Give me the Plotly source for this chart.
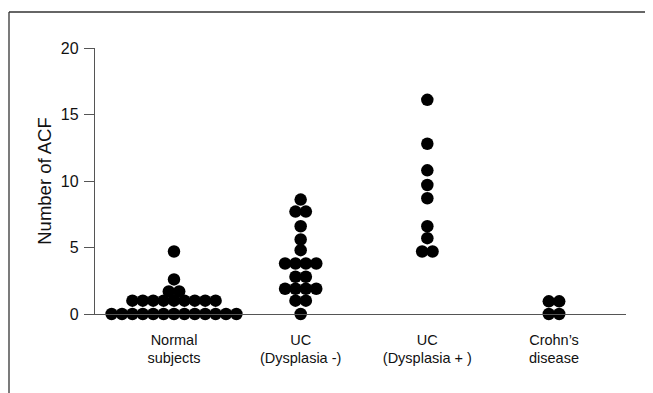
import plotly.graph_objects as go
from collections import Counter

# ---- data ----
categories = ["Normal<br>subjects", "UC<br>(Dysplasia -)", "UC<br>(Dysplasia + )", "Crohn\u2019s<br>disease"]
normal_subjects = [0, 0, 0, 0, 0, 0, 0, 0, 0, 0, 0, 0, 0,
                   1, 1, 1, 1, 1, 1, 1, 1, 1,
                   1.7, 1.7, 2.6, 4.7]
uc_dysplasia_neg = [0, 1.0, 1.0, 1.9, 1.9, 1.9, 1.9, 2.8, 2.8,
                    3.8, 3.8, 3.8, 3.8, 4.8, 5.6, 6.6, 7.7, 7.7, 8.6]
uc_dysplasia_pos = [4.7, 4.7, 5.7, 6.6, 8.7, 9.7, 10.8, 12.8, 16.1]
crohns_disease = [0, 0, 0.95, 0.95]
series = [normal_subjects, uc_dysplasia_neg, uc_dysplasia_pos, crohns_disease]
y_ticks = [0, 5, 10, 15, 20]

# ---- layout constants (page pixels; the page body has an 8px margin) ----
OFF = 8
WIN_W, WIN_H = 653, 393
W, H = WIN_W - OFF, WIN_H - OFF
L, R, T, B = 95 - OFF, 626 - OFF, 48 - OFF, 314 - OFF
cat_px0, cat_px3 = 174, 554
unit = (cat_px3 - cat_px0) / 3.0
x_lo = (95 - cat_px0) / unit
x_hi = (626 - cat_px0) / unit
dot_dx = 10.4 / unit

xs, ys = [], []
for ci, vals in enumerate(series):
    counts = Counter(vals)
    seen = Counter()
    for v in vals:
        n = counts[v]
        i = seen[v]
        seen[v] += 1
        xs.append(ci + (i - (n - 1) / 2.0) * dot_dx)
        ys.append(v)

fig = go.Figure()
fig.add_trace(go.Scatter(
    x=xs, y=ys, mode="markers",
    marker=dict(size=12.5, color="black", line=dict(width=0)),
    cliponaxis=False, showlegend=False, hoverinfo="y"))

axis_col = "#555555"
fig.update_layout(
    width=W, height=H,
    margin=dict(l=L, r=W - R, t=T, b=H - B, pad=0),
    plot_bgcolor="white", paper_bgcolor="white",
    font=dict(family="Liberation Sans, Arial, sans-serif", color="#111111", size=14),
    xaxis=dict(range=[x_lo, x_hi], tickvals=list(range(len(categories))),
               ticktext=categories, showline=True, linecolor=axis_col, linewidth=1.3,
               ticks="", showgrid=False, zeroline=False, ticklabelstandoff=12,
               tickfont=dict(size=14.5), fixedrange=True),
    yaxis=dict(range=[0, 20], tickvals=y_ticks, showline=True, linecolor=axis_col,
               linewidth=1.3, ticks="outside", ticklen=10, tickcolor=axis_col,
               tickwidth=1.3, showgrid=False, zeroline=False,
               tickfont=dict(size=16), ticklabelstandoff=2,
               title=dict(text="Number of ACF", font=dict(size=18.5), standoff=4),
               fixedrange=True),
)

# decorative frame (top and left edges of the figure panel), in figure pixels
def fx(px):
    return (px - L) / (R - L)

def fy(py):
    return (B - py) / (B - T)

frame_col = "#333333"
fig.add_shape(type="line", xref="paper", yref="paper",
              x0=fx(1), x1=fx(W + 5), y0=fy(4), y1=fy(4),
              line=dict(color=frame_col, width=1.3))
fig.add_shape(type="line", xref="paper", yref="paper",
              x0=fx(1), x1=fx(1), y0=fy(4), y1=fy(H + 5),
              line=dict(color=frame_col, width=1.3))

fig.write_html("out.html", config={"displayModeBar": False})
